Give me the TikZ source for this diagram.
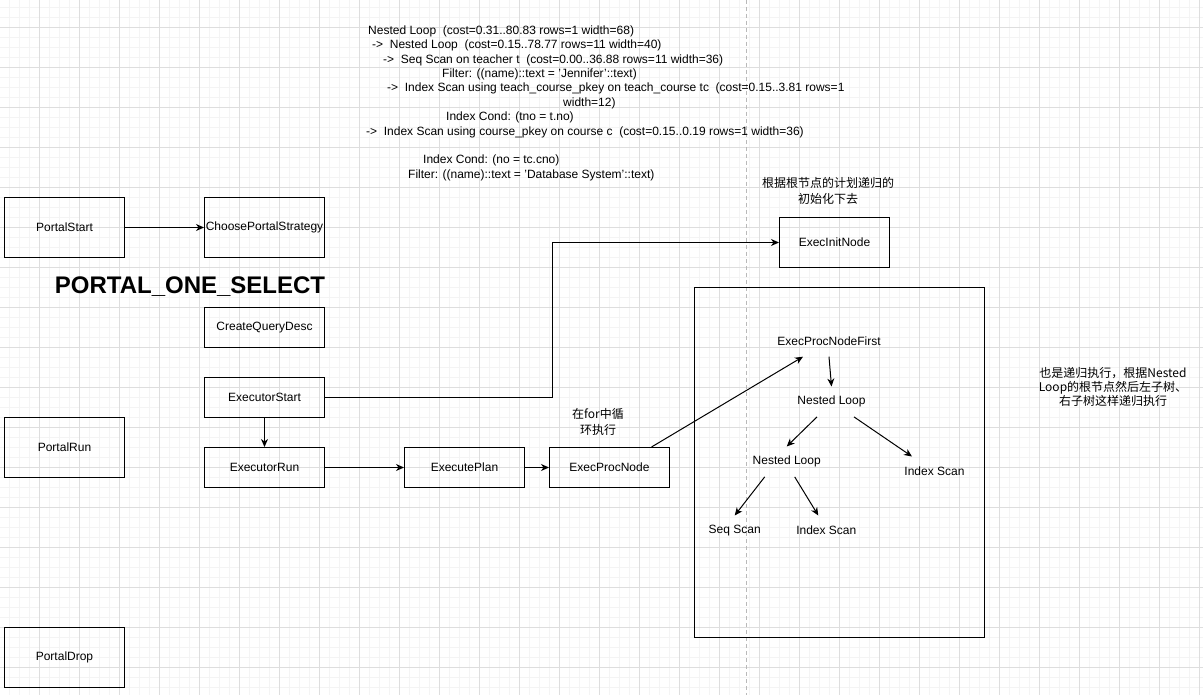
\documentclass[tikz,border=0pt]{standalone}
\usepackage{fontspec}
\setmainfont{Liberation Sans}
\newfontfamily\cjk{Noto Sans CJK SC}
\usetikzlibrary{arrows.meta}
\definecolor{gmajor}{RGB}{222,222,222}
\definecolor{gminor}{RGB}{244,244,244}
\definecolor{pagedash}{RGB}{185,185,185}
\begin{document}
\begin{tikzpicture}[x=1pt,y=-1pt,
  font=\fontsize{12}{14.4}\selectfont,
  box/.style={draw, line width=1pt, minimum width=120pt, minimum height=40pt, inner sep=0pt, anchor=north west},
  lbl/.style={inner sep=0pt, minimum height=30pt},
  code/.style={inner sep=0pt, anchor=base west},
  cjklbl/.style={inner sep=0pt, align=center, font=\cjk\fontsize{12}{16}\selectfont},
  arr/.style={line width=1pt, -{Stealth[length=8pt,width=7pt,inset=2.5pt]}},
  plain/.style={line width=1pt}]
\useasboundingbox (0,0) rectangle (1203,695);
\fill[white] (0,0) rectangle (1203,695);
% grid
\foreach \i in {1,...,120} {\draw[gminor, line width=1pt] ({10*\i-0.7},0) -- ({10*\i-0.7},695);}
\foreach \i in {0,...,68} {\draw[gminor, line width=1pt] (0,{10*\i+7.3}) -- (1203,{10*\i+7.3});}
\foreach \i in {1,...,30} {\draw[gmajor, line width=1pt] ({40*\i-0.7},0) -- ({40*\i-0.7},695);}
\foreach \i in {0,...,16} {\draw[gmajor, line width=1pt] (0,{40*\i+27.3}) -- (1203,{40*\i+27.3});}
\draw[pagedash, line width=1pt, dash pattern=on 4pt off 3pt] (746.5,0) -- (746.5,695);

% plan text
\node[code] (t1) at (368,34.3) {Nested Loop\ \ (cost=0.31..80.83 rows=1 width=68)};
\node[code] (t2) at (372,48.7) {->\ \ Nested Loop\ \ (cost=0.15..78.77 rows=11 width=40)};
\node[code] (t3) at (383,63.1) {->\ \ Seq Scan on teacher t\ \ (cost=0.00..36.88 rows=11 width=36)};
\node[code] (t4) at (442,77.5) {Filter: ((name)::text = 'Jennifer'::text)};
\node[code] (t5) at (387,91.9) {->\ \ Index Scan using teach\_course\_pkey on teach\_course tc\ \ (cost=0.15..3.81 rows=1};
\node[code] (t6) at (563,106.3) {width=12)};
\node[code] (t7) at (446,120.7) {Index Cond: (tno = t.no)};
\node[code] (t8) at (366,135.1) {->\ \ Index Scan using course\_pkey on course c\ \ (cost=0.15..0.19 rows=1 width=36)};
\node[code] (t9) at (423,163.9) {Index Cond: (no = tc.cno)};
\node[code] (t10) at (408,178.3) {Filter: ((name)::text = 'Database System'::text)};

% boxes
\node[box, minimum height=60pt] (ps) at (4,197) {PortalStart};
\node[box, minimum height=60pt] (cps) at (204,197) {ChoosePortalStrategy};
\node[inner sep=0pt, font=\bfseries\fontsize{24}{28}\selectfont] (title) at (190,287) {PORTAL\_ONE\_SELECT};
\node[box] (cqd) at (204,307) {CreateQueryDesc};
\node[box] (es) at (204,377) {ExecutorStart};
\node[box, minimum height=60pt] (pr) at (4,417) {PortalRun};
\node[box] (er) at (204,447) {ExecutorRun};
\node[box] (ep) at (404,447) {ExecutePlan};
\node[box] (epn) at (549,447) {ExecProcNode};
\node[box, minimum width=110pt, minimum height=50pt] (ein) at (779,217) {ExecInitNode};
\node[box, minimum height=60pt] (pd) at (4,627) {PortalDrop};
\node[draw, line width=1pt, inner sep=0pt, anchor=north west, minimum width=290pt, minimum height=350pt] (frame) at (694,287) {};

% notes
\node[cjklbl] (n1) at (828,191) {根据根节点的计划递归的\\初始化下去};
\node[cjklbl] (n2) at (598,421.5) {在for中循\\环执行};
\node[cjklbl, font=\cjk\fontsize{12}{14}\selectfont] (n3) at (1113,386.5) {也是递归执行，根据Nested\\Loop的根节点然后左子树、\\右子树这样递归执行};

% tree
\node[lbl] (epf) at (829,341.5) {ExecProcNodeFirst};
\node[lbl] (nl1) at (831.5,401.7) {Nested Loop};
\node[lbl] (nl2) at (786.7,461.7) {Nested Loop};
\node[lbl] (is1) at (934.5,471.7) {Index Scan};
\node[lbl] (ss) at (734.7,530.7) {Seq Scan};
\node[lbl] (is2) at (826.3,530.7) {Index Scan};

% connectors
\draw[arr] (ps.east) -- (cps.west);
\draw[arr] (es.east) -- ++(227,0) |- (ein.west);
\draw[arr] (es.south) -- (er.north);
\draw[arr] (er.east) -- (ep.west);
\draw[arr] (ep.east) -- (epn.west);
\draw[arr] ([xshift=42pt]epn.north) -- ([xshift=-26pt]epf.south);
\draw[arr] (epf.south) -- (nl1.north);
\draw[arr] ([xshift=-14.5pt]nl1.south) -- (nl2.north);
\draw[arr] ([xshift=22.5pt]nl1.south) -- ([xshift=-22.5pt]is1.north);
\draw[arr] ([xshift=-22pt]nl2.south) -- (ss.north);
\draw[arr] ([xshift=8pt]nl2.south) -- ([xshift=-8pt]is2.north);
\end{tikzpicture}
\end{document}
